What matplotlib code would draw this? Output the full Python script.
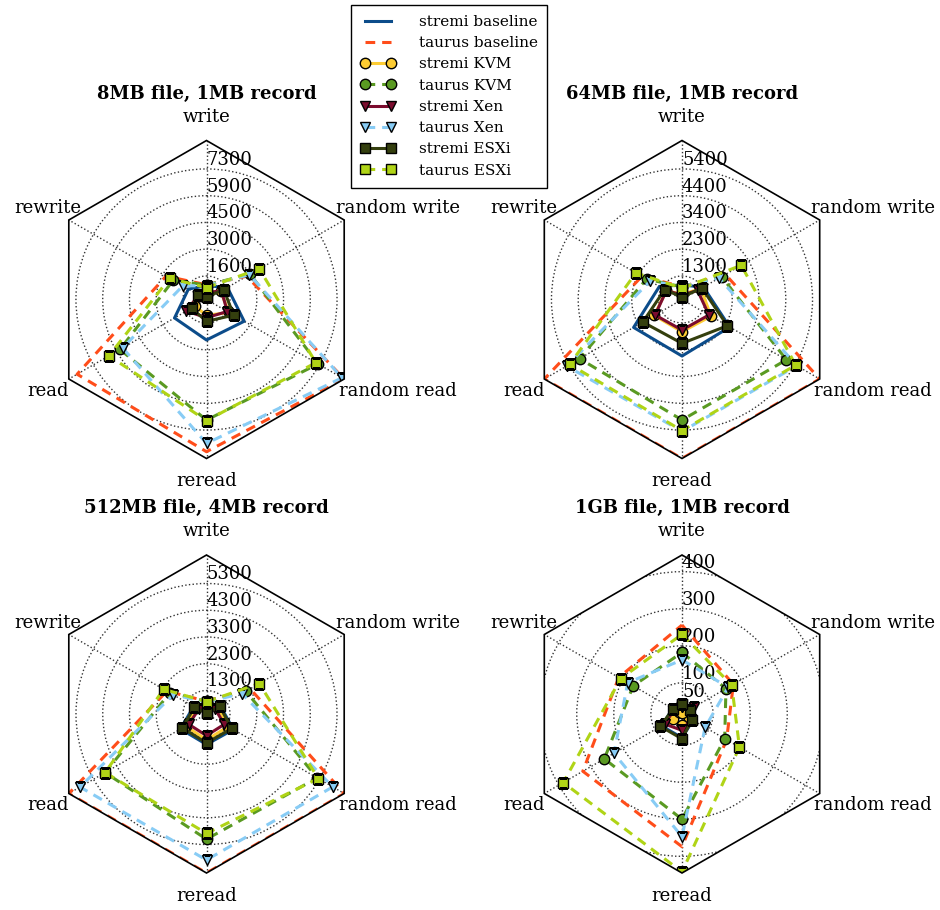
import numpy as np
import matplotlib.pyplot as plt
from matplotlib.path import Path
from matplotlib.patches import RegularPolygon
from matplotlib.projections import register_projection
from matplotlib.projections.polar import PolarAxes
from matplotlib.spines import Spine
from matplotlib.transforms import Affine2D

plt.rcParams['font.family'] = 'DejaVu Serif'
plt.rcParams['lines.scale_dashes'] = False

# axes of the radar, clockwise from the top
axis_names = ['write', 'random write', 'random read', 'reread', 'read', 'rewrite']

titles = ['8MB file, 1MB record', '64MB file, 1MB record',
          '512MB file, 4MB record', '1GB file, 1MB record']

# radial range and grid circles of each panel
r_low = [370, 400, 421, 16]
r_high = [8810, 6490, 6365, 445]
grid_vals = [[1620, 3040, 4460, 5880, 7300],
             [1300, 2325, 3350, 4375, 5400],
             [1300, 2300, 3300, 4300, 5300],
             [50, 100, 200, 300, 400]]
grid_labels = [['1600', '3000', '4500', '5900', '7300'],
               ['1300', '2300', '3400', '4400', '5400'],
               ['1300', '2300', '3300', '4300', '5300'],
               ['50', '100', '200', '300', '400']]

# one row per panel, values in the order of axis_names
stremi_baseline = [[1100, 1650, 2680, 2520, 2330, 1480],
                   [955, 1350, 2510, 2565, 2540, 1400],
                   [720, 1020, 1580, 1560, 1540, 980],
                   [40, 42, 50, 80, 80, 45]]
taurus_baseline = [[1150, 2840, 8800, 8450, 8300, 2850],
                   [890, 2320, 6490, 6490, 6490, 2175],
                   [900, 2305, 6365, 6365, 6365, 2130],
                   [256, 176, 155, 374, 325, 213]]
stremi_kvm = [[650, 1240, 1750, 1210, 1085, 740],
              [590, 1240, 1680, 1635, 1625, 1090],
              [610, 910, 1360, 1390, 1320, 870],
              [20, 30, 38, 45, 45, 25]]
taurus_kvm = [[1140, 3050, 7210, 6770, 5675, 2410],
              [880, 2150, 5020, 5015, 4930, 1970],
              [900, 2120, 5200, 5100, 4800, 2000],
              [182, 153, 149, 300, 258, 168]]
stremi_xen = [[740, 1290, 1645, 1335, 1600, 850],
              [570, 1090, 1590, 1570, 1590, 1090],
              [700, 795, 1190, 1230, 1190, 760],
              [35, 54, 45, 60, 70, 40]]
taurus_xen = [[1100, 3000, 8680, 8010, 5510, 1820],
              [900, 2040, 5480, 5450, 5500, 1810],
              [870, 1950, 5870, 5880, 5880, 1860],
              [162, 160, 88, 347, 228, 185]]
stremi_esxi = [[500, 1430, 2030, 1530, 1285, 885],
               [490, 1280, 2410, 2080, 2130, 1165],
               [450, 995, 1505, 1505, 1460, 940],
               [43, 40, 47, 83, 83, 44]]
taurus_esxi = [[1000, 3610, 7075, 6800, 6350, 2630],
               [830, 3020, 5430, 5420, 5370, 2440],
               [880, 2700, 5245, 4885, 4800, 2270],
               [231, 171, 195, 442, 386, 207]]

series = [('stremi baseline', stremi_baseline, '#0c4c8a', '-', None),
          ('taurus baseline', taurus_baseline, '#ff4d1a', '--', None),
          ('stremi KVM', stremi_kvm, '#fdcc33', '-', 'o'),
          ('taurus KVM', taurus_kvm, '#5a9a22', '--', 'o'),
          ('stremi Xen', stremi_xen, '#7b0c2e', '-', 'v'),
          ('taurus Xen', taurus_xen, '#88ccf5', '--', 'v'),
          ('stremi ESXi', stremi_esxi, '#343f0e', '-', 's'),
          ('taurus ESXi', taurus_esxi, '#b0d416', '--', 's')]


class RadarAxes(PolarAxes):
    name = 'radar6'

    def _gen_axes_patch(self):
        return RegularPolygon((0.5, 0.5), 6, radius=0.5, edgecolor='k')

    def _gen_axes_spines(self):
        spine = Spine(axes=self, spine_type='circle',
                      path=Path.unit_regular_polygon(6))
        spine.set_transform(Affine2D().scale(.5).translate(.5, .5)
                            + self.transAxes)
        return {'polar': spine}


register_projection(RadarAxes)

W, H = 940, 910
fig = plt.figure(figsize=(W / 100, H / 100), dpi=100)

centers = [(206.5, 299.5), (682, 299.5), (206.5, 714), (682, 714)]
R = 159

theta = np.linspace(0, 2 * np.pi, 6, endpoint=False)
theta_c = np.append(theta, theta[0])

# label offsets (points) and alignment per axis
lab_off = [(0, 17), (-6, 8.5), (-4, -8.5), (0, -16.5), (0, -8.5), (9, 8.5)]
lab_ha = ['center', 'left', 'left', 'center', 'right', 'right']

handles = []
for i, (cx, cy) in enumerate(centers):
    ax = fig.add_axes([(cx - R) / W, (H - cy - R) / H, 2 * R / W, 2 * R / H],
                      projection='radar6')
    ax.set_theta_zero_location('N')
    ax.set_theta_direction(-1)
    ax.set_ylim(r_low[i], r_high[i])
    ax.set_thetagrids(np.degrees(theta), [''] * 6)
    ax.set_rgrids(grid_vals[i], [''] * len(grid_vals[i]))
    ax.grid(True, color='0.2', linestyle=':', linewidth=1)
    ax.spines['polar'].set_linewidth(1.2)

    for v, lab in zip(grid_vals[i], grid_labels[i]):
        ax.text(0, v, lab, ha='left', va='bottom', fontsize=13, zorder=1)

    for j, name in enumerate(axis_names):
        ax.annotate(name, xy=(theta[j], r_high[i]), xytext=lab_off[j],
                    textcoords='offset points', ha=lab_ha[j], va='center',
                    fontsize=13, annotation_clip=False)

    for label, vals, color, ls, marker in series:
        v = vals[i] + vals[i][:1]
        kw = dict(color=color, linewidth=2.2, marker=marker, markersize=7.5,
                  markerfacecolor=color, markeredgecolor='k',
                  markeredgewidth=1, label=label)
        if ls == '--':
            kw['dashes'] = (7, 5)
        line, = ax.plot(theta_c, v, **kw)
        if i == 0:
            handles.append(line)

    ax.set_title(titles[i], fontweight='bold', fontsize=13, y=1.132, pad=0)

fig.legend(handles=handles, loc='upper center',
           bbox_to_anchor=(449 / W, 1 - 5 / H), borderaxespad=0,
           fontsize=11, numpoints=2, handlelength=2.3, handletextpad=1.5,
           labelspacing=0.475, borderpad=0.65, fancybox=False,
           edgecolor='k', framealpha=1)

fig.savefig('out.png', dpi=100)
